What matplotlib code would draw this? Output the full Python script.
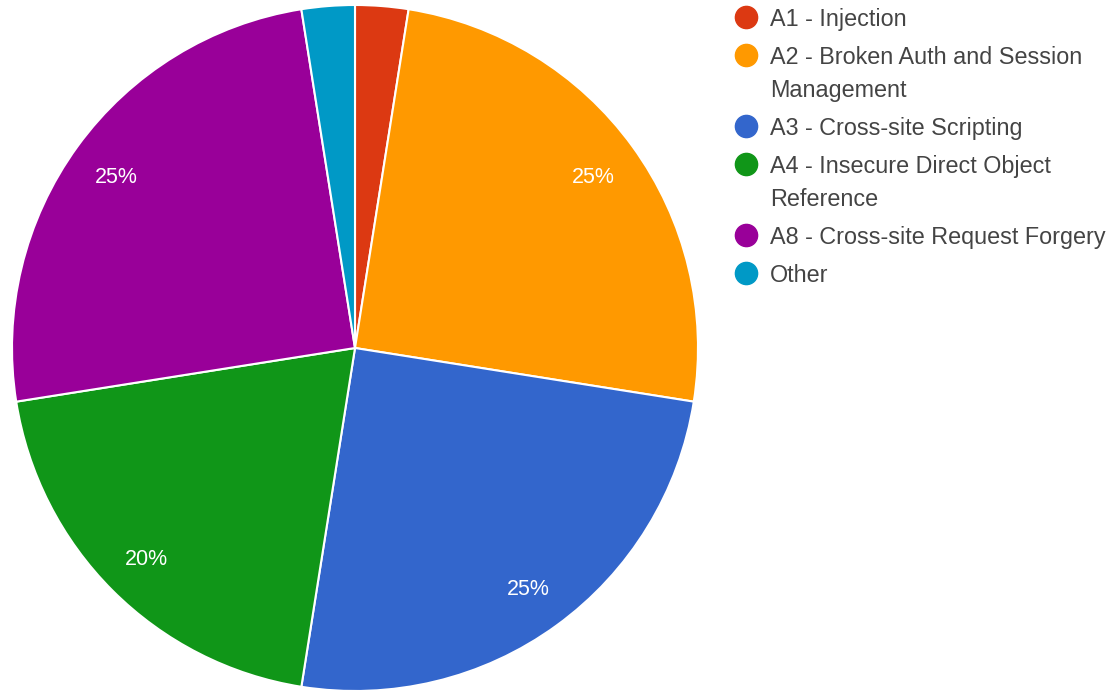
import matplotlib.pyplot as plt

labels = ['A1 - Injection', 'A2 - Broken Auth and Session\nManagement',
          'A3 - Cross-site Scripting', 'A4 - Insecure Direct Object\nReference',
          'A8 - Cross-site Request Forgery', 'Other']
values = [2.5, 25, 25, 20, 25, 2.5]
colors = ['#dc3912', '#ff9900', '#3366cc', '#109618', '#990099', '#0099c6']

plt.rcParams['font.family'] = ['Liberation Sans', 'DejaVu Sans']

W, H = 1118, 692
fig = plt.figure(figsize=(W / 100, H / 100), dpi=100)

cx, cy, r = 355, 348, 343
ax = fig.add_axes([(cx - r) / W, (H - cy - r) / H, 2 * r / W, 2 * r / H])


def pct(p):
    return '%.0f%%' % p if p >= 5 else ''


wedges, texts, autotexts = ax.pie(values, colors=colors, startangle=90, counterclock=False,
                                  autopct=pct, pctdistance=0.86, radius=1,
                                  wedgeprops=dict(edgecolor='white', linewidth=1.5),
                                  textprops=dict(color='white', fontsize=15.5))
for t in autotexts:
    t.set_va('center_baseline')
ax.set_xlim(-1, 1)
ax.set_ylim(-1, 1)
ax.set_aspect('equal')
ax.axis('off')

# legend drawn by hand to match spacing
y = 17
for lab, col in zip(labels, colors):
    fig.lines.append(plt.Line2D([746 / W], [1 - y / H], marker='o', markersize=16,
                                color=col, transform=fig.transFigure))
    for line in lab.split('\n'):
        fig.text(770 / W, 1 - y / H, line, color='#444444', fontsize=16.8,
                 va='center_baseline', ha='left')
        y += 33
    y += 5

fig.savefig('out.png', dpi=100)
